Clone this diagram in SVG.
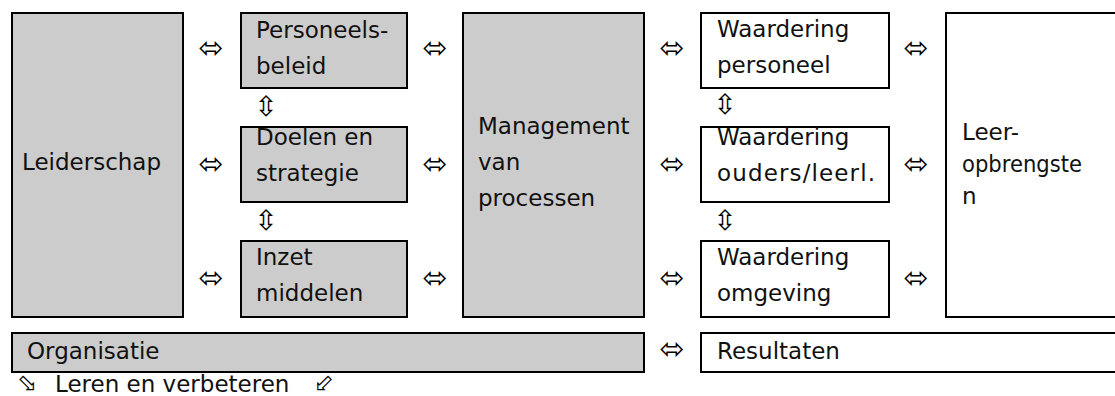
<svg xmlns="http://www.w3.org/2000/svg" width="1115" height="396" viewBox="0 0 1115 396">
  <style>
    .box { stroke: #000; stroke-width: 2; }
    .grey { fill: #cccccc; }
    .white { fill: #ffffff; }
    .lbl { font-family: "DejaVu Sans", "Liberation Sans", sans-serif; font-size: 23px; fill: #111; }
    .arr { font-family: "DejaVu Sans", sans-serif; font-size: 30px; fill: #000; text-anchor: middle; dominant-baseline: central; }
    .varr { font-family: "DejaVu Sans", sans-serif; font-size: 28px; fill: #000; text-anchor: middle; dominant-baseline: central; }
    .darr { font-family: "DejaVu Sans", sans-serif; font-size: 24px; fill: #000; text-anchor: middle; dominant-baseline: central; }
  </style>
  <rect width="1115" height="396" fill="#fff"/>

  <g id="leiderschap">
    <rect class="box grey" x="12" y="13" width="171" height="304"/>
    <text class="lbl" x="22" y="170">Leiderschap</text>
  </g>
  <g id="personeelsbeleid">
    <rect class="box grey" x="241" y="13" width="166" height="75"/>
    <text class="lbl" x="256" y="38">Personeels-</text>
    <text class="lbl" x="256" y="74">beleid</text>
  </g>
  <g id="doelen">
    <rect class="box grey" x="241" y="127" width="166" height="75"/>
    <text class="lbl" x="256" y="145">Doelen en</text>
    <text class="lbl" x="256" y="181">strategie</text>
  </g>
  <g id="inzet">
    <rect class="box grey" x="241" y="241" width="166" height="76"/>
    <text class="lbl" x="256" y="265">Inzet</text>
    <text class="lbl" x="256" y="301">middelen</text>
  </g>
  <g id="management">
    <rect class="box grey" x="463" y="13" width="181" height="304"/>
    <text class="lbl" x="478" y="134">Management</text>
    <text class="lbl" x="478" y="170">van</text>
    <text class="lbl" x="478" y="206">processen</text>
  </g>
  <g id="waardering-personeel">
    <rect class="box white" x="701" y="13" width="188" height="75"/>
    <text class="lbl" x="717" y="37">Waardering</text>
    <text class="lbl" x="717" y="73">personeel</text>
  </g>
  <g id="waardering-ouders">
    <rect class="box white" x="701" y="127" width="188" height="75"/>
    <text class="lbl" x="717" y="145">Waardering</text>
    <text class="lbl" x="717" y="181" textLength="158" lengthAdjust="spacing">ouders/leerl.</text>
  </g>
  <g id="waardering-omgeving">
    <rect class="box white" x="701" y="241" width="188" height="76"/>
    <text class="lbl" x="717" y="265">Waardering</text>
    <text class="lbl" x="717" y="301">omgeving</text>
  </g>
  <g id="leeropbrengsten">
    <rect class="box white" x="946" y="13" width="180" height="304"/>
    <text class="lbl" x="962" y="140">Leer-</text>
    <text class="lbl" x="962" y="172" textLength="120" lengthAdjust="spacingAndGlyphs">opbrengste</text>
    <text class="lbl" x="962" y="204">n</text>
  </g>
  <g id="organisatie">
    <rect class="box grey" x="12" y="333" width="632" height="39"/>
    <text class="lbl" x="27" y="359">Organisatie</text>
  </g>
  <g id="resultaten">
    <rect class="box white" x="701" y="333" width="425" height="39"/>
    <text class="lbl" x="717" y="359">Resultaten</text>
  </g>

  <g id="connectors">
    <text class="arr" x="211" y="47">⬄</text>
    <text class="arr" x="211" y="163">⬄</text>
    <text class="arr" x="211" y="277">⬄</text>
    <text class="arr" x="435" y="47">⬄</text>
    <text class="arr" x="435" y="163">⬄</text>
    <text class="arr" x="435" y="277">⬄</text>
    <text class="arr" x="672" y="47">⬄</text>
    <text class="arr" x="672" y="163">⬄</text>
    <text class="arr" x="672" y="277">⬄</text>
    <text class="arr" x="916" y="47">⬄</text>
    <text class="arr" x="916" y="163">⬄</text>
    <text class="arr" x="916" y="277">⬄</text>
    <text class="arr" x="672" y="348">⬄</text>
    <text class="varr" x="266" y="106">⇳</text>
    <text class="varr" x="266" y="220">⇳</text>
    <text class="varr" x="725" y="104">⇳</text>
    <text class="varr" x="725" y="220">⇳</text>
  </g>

  <g id="leren-verbeteren">
    <text class="darr" x="27" y="383">⬂</text>
    <text class="lbl" x="55" y="392">Leren en verbeteren</text>
    <text class="darr" x="324" y="383">⬃</text>
  </g>
</svg>
